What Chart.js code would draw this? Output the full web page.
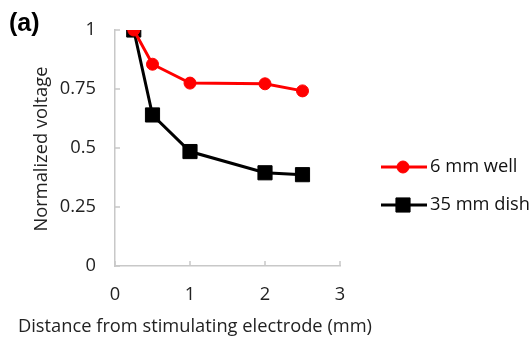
<!DOCTYPE html>
<html>
<head>
<meta charset="utf-8">
<script src="https://cdn.jsdelivr.net/npm/chart.js@4.4.1/dist/chart.umd.min.js"></script>
<style>
html,body{margin:0;padding:0;background:#fff;}
#wrap{width:530px;height:343px;position:relative;}
</style>
</head>
<body>
<div id="wrap"><canvas id="c" width="530" height="343"></canvas></div>
<script>
const distances = [0.25, 0.5, 1, 2, 2.5];
const wellValues = [1.0, 0.855, 0.775, 0.772, 0.742];
const dishValues = [1.0, 0.64, 0.485, 0.395, 0.387];
const seriesNames = ['6 mm well', '35 mm dish'];
const xTicks = [0, 1, 2, 3];
const yTicks = [0, 0.25, 0.5, 0.75, 1];
const yTickLabels = ['0', '0.25', '0.5', '0.75', '1'];
const panelLabel = '(a)';
const xTitle = 'Distance from stimulating electrode (mm)';
const yTitle = 'Normalized voltage';

const FONT = '"Open Sans", sans-serif';
const TXT = 18.3;
const AXIS_COLOR = '#c8c8c8';

const extras = {
  id: 'extras',
  beforeDatasetsDraw(chart) {
    // inward tick marks
    const ctx = chart.ctx;
    const xs = chart.scales.x, ys = chart.scales.y;
    const a = chart.chartArea;
    ctx.save();
    ctx.strokeStyle = AXIS_COLOR;
    ctx.lineWidth = 1.5;
    ctx.beginPath();
    xTicks.forEach(v => {
      const px = Math.round(xs.getPixelForValue(v));
      ctx.moveTo(px, a.bottom);
      ctx.lineTo(px, a.bottom - 5);
    });
    yTicks.forEach(v => {
      const py = Math.round(ys.getPixelForValue(v));
      ctx.moveTo(a.left, py);
      ctx.lineTo(a.left + 5, py);
    });
    ctx.stroke();
    ctx.restore();
  },
  afterDraw(chart) {
    const ctx = chart.ctx;
    ctx.save();
    // panel label
    ctx.fillStyle = '#000';
    ctx.font = 'bold 25px "Liberation Sans", Arial, sans-serif';
    ctx.textBaseline = 'alphabetic';
    ctx.textAlign = 'left';
    ctx.fillText(panelLabel, 9, 31);
    // x title
    ctx.font = TXT + 'px ' + FONT;
    ctx.fillStyle = '#222';
    ctx.textAlign = 'center';
    ctx.textBaseline = 'middle';
    ctx.fillText(xTitle, 195, 327);
    // y title
    ctx.save();
    ctx.translate(42, 149);
    ctx.rotate(-Math.PI / 2);
    ctx.fillText(yTitle, 0, 0);
    ctx.restore();
    // legend
    const items = chart.data.datasets;
    const ysL = [167, 205];
    items.forEach((ds, i) => {
      const y = ysL[i];
      ctx.strokeStyle = ds.borderColor;
      ctx.lineWidth = ds.borderWidth;
      ctx.beginPath();
      ctx.moveTo(381, y);
      ctx.lineTo(427, y);
      ctx.stroke();
      ctx.fillStyle = ds.pointBackgroundColor;
      ctx.strokeStyle = ds.pointBorderColor;
      ctx.lineWidth = 1;
      ctx.beginPath();
      if (ds.pointStyle === 'rect') {
        const s = ds.pointRadius * Math.SQRT1_2;
        ctx.rect(403 - s, y - s, 2 * s, 2 * s);
      } else {
        ctx.arc(403, y, ds.pointRadius, 0, Math.PI * 2);
      }
      ctx.fill();
      ctx.stroke();
      ctx.fillStyle = '#111';
      ctx.font = TXT + 'px ' + FONT;
      ctx.textAlign = 'left';
      ctx.textBaseline = 'middle';
      ctx.fillText(seriesNames[i], 430, y);
    });
    ctx.restore();
  }
};

new Chart(document.getElementById('c'), {
  type: 'line',
  data: {
    datasets: [
      {
        label: seriesNames[0],
        data: distances.map((x, i) => ({x, y: wellValues[i]})),
        borderColor: '#ff0000',
        backgroundColor: '#ff0000',
        pointBackgroundColor: '#ff0000',
        pointBorderColor: '#ff0000',
        borderWidth: 3,
        pointStyle: 'circle',
        pointRadius: 6,
        pointBorderWidth: 1,
        tension: 0
      },
      {
        label: seriesNames[1],
        data: distances.map((x, i) => ({x, y: dishValues[i]})),
        borderColor: '#000000',
        backgroundColor: '#000000',
        pointBackgroundColor: '#000000',
        pointBorderColor: '#000000',
        borderWidth: 3,
        pointStyle: 'rect',
        pointRadius: 10,
        pointBorderWidth: 1,
        tension: 0
      }
    ]
  },
  options: {
    responsive: false,
    animation: false,
    devicePixelRatio: 1,
    layout: { padding: { left: 0, right: 190, top: 30, bottom: 0 } },
    plugins: { legend: { display: false }, tooltip: { enabled: false } },
    scales: {
      x: {
        type: 'linear',
        min: 0, max: 3,
        afterBuildTicks(s) { s.ticks = xTicks.map(v => ({value: v})); },
        afterFit(s) { s.height = 77; },
        grid: { display: true, drawOnChartArea: false, drawTicks: false, color: 'rgba(0,0,0,0)' },
        border: { display: true, color: AXIS_COLOR, width: 1.5 },
        ticks: { color: '#222', font: { family: FONT, size: TXT }, padding: 18 }
      },
      y: {
        type: 'linear',
        min: 0, max: 1,
        afterBuildTicks(s) { s.ticks = yTicks.map(v => ({value: v})); },
        afterFit(s) { s.width = 115; },
        grid: { display: true, drawOnChartArea: false, drawTicks: false, color: 'rgba(0,0,0,0)' },
        border: { display: true, color: AXIS_COLOR, width: 1.5 },
        ticks: {
          color: '#222', font: { family: FONT, size: TXT }, padding: 19,
          callback: (v) => yTickLabels[yTicks.indexOf(v)] ?? ''
        }
      }
    }
  },
  plugins: [extras]
});
</script>
</body>
</html>
